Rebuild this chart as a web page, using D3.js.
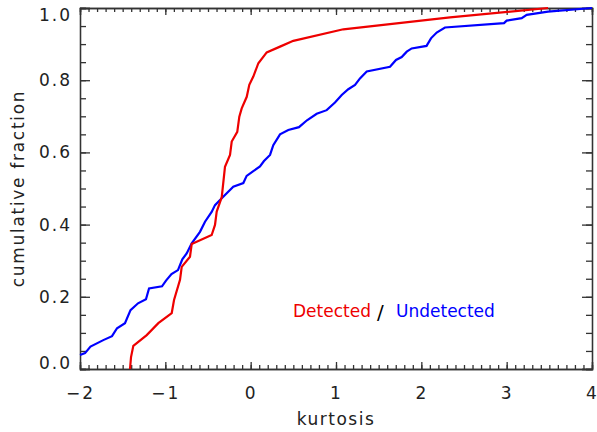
<!DOCTYPE html>
<html>
  <head>
    <meta charset="utf-8">
    <title>kurtosis cumulative fraction</title>
    <script src="https://cdn.jsdelivr.net/npm/d3@7"></script>
    <style>
      body { margin: 0; background: #fff; }
      text { font-family: "DejaVu Sans", sans-serif; fill: #222; }
      .axis path, .axis line { stroke: #333; stroke-width: 1.3; }
      .axis text { font-size: 17px; letter-spacing: 2px; }
    </style>
  </head>
  <body>
    <svg id="chart" width="597" height="432"></svg>
    <script>
      // curves: [kurtosis, cumulative fraction]
      var detected = [
        [-1.414, 0], [-1.402, 0.033], [-1.375, 0.064], [-1.218, 0.094], [-1.082, 0.127],
        [-0.925, 0.155], [-0.898, 0.191], [-0.828, 0.247], [-0.808, 0.283], [-0.711, 0.311],
        [-0.691, 0.346], [-0.457, 0.371], [-0.418, 0.399], [-0.398, 0.436], [-0.339, 0.476],
        [-0.301, 0.560], [-0.242, 0.593], [-0.222, 0.630], [-0.157, 0.657], [-0.133, 0.699],
        [-0.105, 0.722], [-0.046, 0.754], [-0.016, 0.787], [0.031, 0.810], [0.090, 0.847],
        [0.188, 0.877], [0.344, 0.893], [0.500, 0.909], [1.086, 0.941], [2.336, 0.974],
        [3.485, 1.0]
      ];
      var undetected = [
        [-2.0, 0.039], [-1.941, 0.044], [-1.877, 0.062], [-1.727, 0.080], [-1.625, 0.091],
        [-1.566, 0.113], [-1.473, 0.127], [-1.408, 0.163], [-1.320, 0.182], [-1.227, 0.193],
        [-1.191, 0.223], [-1.039, 0.229], [-0.992, 0.245], [-0.928, 0.263], [-0.852, 0.274],
        [-0.801, 0.304], [-0.750, 0.320], [-0.691, 0.348], [-0.594, 0.380], [-0.535, 0.408],
        [-0.457, 0.435], [-0.418, 0.454], [-0.339, 0.473], [-0.204, 0.505], [-0.086, 0.515],
        [-0.047, 0.535], [0.031, 0.548], [0.109, 0.561], [0.156, 0.576], [0.227, 0.593],
        [0.265, 0.620], [0.344, 0.650], [0.441, 0.662], [0.566, 0.670], [0.660, 0.689],
        [0.774, 0.707], [0.891, 0.717], [0.988, 0.738], [1.067, 0.759], [1.144, 0.775],
        [1.223, 0.787], [1.281, 0.805], [1.360, 0.824], [1.633, 0.837], [1.703, 0.856],
        [1.770, 0.864], [1.829, 0.879], [1.887, 0.888], [2.061, 0.895], [2.113, 0.916],
        [2.180, 0.932], [2.277, 0.946], [2.969, 0.958], [3.000, 0.965], [3.176, 0.972],
        [3.235, 0.981], [3.485, 0.990], [4.0, 1.0]
      ];
      var xTicks = [-2, -1, 0, 1, 2, 3, 4];
      var yTicks = [0, 0.2, 0.4, 0.6, 0.8, 1.0];
      var xMinor = d3.range(-20, 41).map(function(d) { return d / 10; });
      var yMinor = d3.range(0, 21).map(function(d) { return d / 20; });

      var margin = { top: 8, right: 5, bottom: 63, left: 80 };
      var svg = d3.select("#chart");
      var width = 597 - margin.left - margin.right;
      var height = 432 - margin.top - margin.bottom;
      var g = svg.append("g")
        .attr("transform", "translate(" + margin.left + "," + margin.top + ")");

      var x = d3.scaleLinear().domain([-2, 4]).range([0, width]);
      var y = d3.scaleLinear().domain([0, 1]).range([height, 0]);

      // minor ticks on all four sides
      g.append("g").attr("class", "axis")
        .attr("transform", "translate(0," + height + ")")
        .call(d3.axisBottom(x).tickValues(xMinor).tickSize(-4).tickFormat(""));
      g.append("g").attr("class", "axis")
        .call(d3.axisTop(x).tickValues(xMinor).tickSize(-4).tickFormat(""));
      g.append("g").attr("class", "axis")
        .call(d3.axisLeft(y).tickValues(yMinor).tickSize(-6).tickFormat(""));
      g.append("g").attr("class", "axis")
        .attr("transform", "translate(" + width + ",0)")
        .call(d3.axisRight(y).tickValues(yMinor).tickSize(-6).tickFormat(""));

      // major ticks
      g.append("g").attr("class", "axis")
        .attr("transform", "translate(0," + height + ")")
        .call(d3.axisBottom(x).tickValues(xTicks).tickSize(-7).tickPadding(18)
          .tickFormat(function(d) { return d < 0 ? "\u2212" + Math.abs(d) : d; }));
      g.append("g").attr("class", "axis")
        .call(d3.axisTop(x).tickValues(xTicks).tickSize(-7).tickFormat(""));
      var yAxisG = g.append("g").attr("class", "axis")
        .call(d3.axisLeft(y).tickValues(yTicks).tickSize(-10).tickPadding(8)
          .tickFormat(d3.format(".1f")));
      g.append("g").attr("class", "axis")
        .attr("transform", "translate(" + width + ",0)")
        .call(d3.axisRight(y).tickValues(yTicks).tickSize(-10).tickFormat(""));

      // end labels sit inside the frame
      yAxisG.selectAll(".tick text")
        .attr("y", function(d) { return d === 1 ? 7 : (d === 0 ? -6 : 0); });

      var line = d3.line()
        .x(function(d) { return x(d[0]); })
        .y(function(d) { return y(d[1]); });

      g.append("path").datum(undetected)
        .attr("d", line)
        .attr("fill", "none")
        .attr("stroke", "#0000ff")
        .attr("stroke-width", 2.2);
      g.append("path").datum(detected)
        .attr("d", line)
        .attr("fill", "none")
        .attr("stroke", "#ee0000")
        .attr("stroke-width", 2.2);

      // axis titles
      svg.append("text")
        .attr("x", margin.left + width / 2)
        .attr("y", 425)
        .attr("text-anchor", "middle")
        .style("font-size", "17px")
        .style("letter-spacing", "1.5px")
        .text("kurtosis");
      svg.append("text")
        .attr("transform", "translate(24," + (margin.top + height / 2) + ") rotate(-90)")
        .attr("text-anchor", "middle")
        .style("font-size", "17px")
        .style("letter-spacing", "1.7px")
        .text("cumulative fraction");

      // legend
      svg.append("text").attr("x", 293).attr("y", 317)
        .style("font-size", "17px").style("fill", "#ee0000").text("Detected");
      svg.append("text").attr("x", 377).attr("y", 319)
        .style("font-size", "20px").style("fill", "#000").text("/");
      svg.append("text").attr("x", 396).attr("y", 317)
        .style("font-size", "17px").style("fill", "#0000ff").text("Undetected");
    </script>
  </body>
</html>
